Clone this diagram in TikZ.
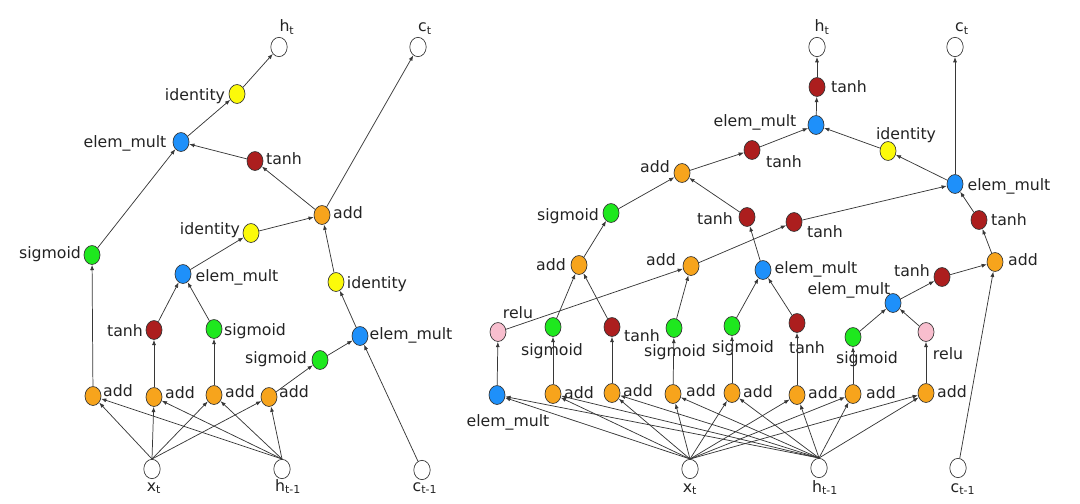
\documentclass[tikz,border=0pt]{standalone}
\usepackage{fontspec}
\setmainfont{DejaVu Sans}
\usetikzlibrary{arrows.meta,shapes.geometric}
\definecolor{corn}{RGB}{247,164,28}
\definecolor{cblu}{RGB}{30,144,250}
\definecolor{cred}{RGB}{172,30,30}
\definecolor{cgrn}{RGB}{30,232,30}
\definecolor{cyel}{RGB}{252,250,10}
\definecolor{cpnk}{RGB}{248,190,206}
\definecolor{cline}{RGB}{55,55,55}
\definecolor{ctext}{RGB}{35,35,35}
\begin{document}
\begin{tikzpicture}[x=0.75pt,y=-0.75pt,
  nd/.style={ellipse, draw=black!80, line width=0.5pt, minimum width=12pt, minimum height=14.2pt, inner sep=0pt},
  wht/.style={nd, fill=white, minimum width=12.3pt, minimum height=14.5pt},
  orn/.style={nd, fill=corn},
  blu/.style={nd, fill=cblu},
  rdn/.style={nd, fill=cred},
  grn/.style={nd, fill=cgrn},
  yel/.style={nd, fill=cyel},
  pnk/.style={nd, fill=cpnk},
  lbl/.style={font=\fontsize{11.8}{14}\selectfont, text=ctext, inner sep=0pt, text height=9pt, text depth=0pt, anchor=center},
  ar/.style={-{Latex[length=4pt,width=3pt]}, draw=cline, line width=0.55pt}]
\useasboundingbox (0,0) rectangle (1080,503);
% ---------------- left diagram ----------------
\node[wht] (Lht) at (279,47) {};
\node[wht] (Lct) at (418,47) {};
\node[yel] (Lid1) at (237,94) {};
\node[blu] (Lem1) at (181,142) {};
\node[rdn] (Lth1) at (255,161) {};
\node[orn] (Lad0) at (322,215) {};
\node[yel] (Lid2) at (251,233) {};
\node[grn] (Lsg1) at (92,255) {};
\node[blu] (Lem2) at (183,274) {};
\node[yel] (Lid3) at (336,282) {};
\node[rdn] (Lth2) at (154,330) {};
\node[grn] (Lsg2) at (214,329) {};
\node[blu] (Lem3) at (360,336) {};
\node[grn] (Lsg3) at (320,360) {};
\node[orn] (Lad1) at (93,396) {};
\node[orn] (Lad2) at (154,397) {};
\node[orn] (Lad3) at (214,395) {};
\node[orn] (Lad4) at (269,397) {};
\node[wht] (Lxt) at (152,469) {};
\node[wht] (Lhp) at (282,469) {};
\node[wht] (Lcp) at (422,470) {};
% labels
\node[lbl] (tLht) at (287,26) {h\textsubscript{t}};
\node[lbl] (tLct) at (425,26) {c\textsubscript{t}};
\node[lbl] (tLid1) at (195,94) {identity};
\node[lbl] (tLem1) at (125,141) {elem\_mult};
\node[lbl] (tLth1) at (284,158) {tanh};
\node[lbl] (tLad0) at (348,212) {add};
\node[lbl] (tLid2) at (210,228) {identity};
\node[lbl] (tLsg1) at (50,252) {sigmoid};
\node[lbl] (tLem2) at (237,275) {elem\_mult};
\node[lbl] (tLid3) at (377,282) {identity};
\node[lbl] (tLth2) at (125,330) {tanh};
\node[lbl] (tLsg2) at (255,329) {sigmoid};
\node[lbl] (tLem3) at (411,333) {elem\_mult};
\node[lbl] (tLsg3) at (276,357) {sigmoid};
\node[lbl] (tLad1) at (118,390) {add};
\node[lbl] (tLad2) at (180,392) {add};
\node[lbl] (tLad3) at (240,391) {add};
\node[lbl] (tLad4) at (294,391) {add};
\node[lbl] (tLxt) at (154,485) {x\textsubscript{t}};
\node[lbl] (tLhp) at (288,485) {h\textsubscript{t-1}};
\node[lbl] (tLcp) at (425,485) {c\textsubscript{t-1}};
% edges
\foreach \t in {Lad1,Lad2,Lad3,Lad4} {
  \draw[ar] (Lxt.north) -- (\t);
  \draw[ar] (Lhp.north) -- (\t);
}
\draw[ar] (Lad1) -- (Lsg1);
\draw[ar] (Lsg1) -- (Lem1);
\draw[ar] (Lad2) -- (Lth2);
\draw[ar] (Lth2) -- (Lem2);
\draw[ar] (Lad3) -- (Lsg2);
\draw[ar] (Lsg2) -- (Lem2);
\draw[ar] (Lad4) -- (Lsg3);
\draw[ar] (Lsg3) -- (Lem3);
\draw[ar] (Lcp) -- (Lem3);
\draw[ar] (Lem3) -- (Lid3);
\draw[ar] (Lid3) -- (Lad0);
\draw[ar] (Lem2) -- (Lid2);
\draw[ar] (Lid2) -- (Lad0);
\draw[ar] (Lad0) -- (Lth1);
\draw[ar] (Lth1) -- (Lem1);
\draw[ar] (Lad0) -- (Lct);
\draw[ar] (Lem1) -- (Lid1);
\draw[ar] (Lid1) -- (Lht);
% ---------------- right diagram ----------------
\node[wht] (Rht) at (817,47) {};
\node[wht] (Rct) at (955,47) {};
\node[rdn] (Rth0) at (817,87) {};
\node[blu] (Rem0) at (816,125) {};
\node[yel] (Rid) at (888,151) {};
\node[rdn] (Rth1) at (752,150) {};
\node[orn] (Rad0) at (682,173) {};
\node[blu] (Rem1) at (955,184) {};
\node[grn] (Rsg0) at (611,213) {};
\node[rdn] (Rth2) at (747,217) {};
\node[rdn] (Rth3) at (794,222) {};
\node[rdn] (Rth4) at (979,220) {};
\node[orn] (RadA) at (579,265) {};
\node[orn] (RadB) at (691,266) {};
\node[blu] (Rem2) at (763,270) {};
\node[orn] (RadC) at (995,262) {};
\node[rdn] (Rth5) at (942,277) {};
\node[blu] (Rem3) at (893,303) {};
\node[pnk] (Rre1) at (498,332) {};
\node[grn] (Rsg1) at (553,327) {};
\node[rdn] (Rth6) at (612,327) {};
\node[grn] (Rsg2) at (674,328) {};
\node[grn] (Rsg3) at (732,326) {};
\node[rdn] (Rth7) at (797,323) {};
\node[grn] (Rsg4) at (853,337) {};
\node[pnk] (Rre2) at (926,332) {};
\node[blu] (Rb1) at (497,395) {};
\node[orn] (Rb2) at (553,394) {};
\node[orn] (Rb3) at (612,393) {};
\node[orn] (Rb4) at (673,394) {};
\node[orn] (Rb5) at (732,393) {};
\node[orn] (Rb6) at (797,395) {};
\node[orn] (Rb7) at (853,394) {};
\node[orn] (Rb8) at (926,393) {};
\node[wht] (Rxt) at (690,469) {};
\node[wht] (Rhp) at (819,468) {};
\node[wht] (Rcp) at (958,468) {};
% labels
\node[lbl] (tRht) at (822,26) {h\textsubscript{t}};
\node[lbl] (tRct) at (962,26) {c\textsubscript{t}};
\node[lbl] (tRth0) at (849,87) {tanh};
\node[lbl] (tRem0) at (755,120) {elem\_mult};
\node[lbl] (tRid) at (906,133) {identity};
\node[lbl] (tRth1) at (784,161) {tanh};
\node[lbl] (tRad0) at (655,166) {add};
\node[lbl] (tRem1) at (1009,184) {elem\_mult};
\node[lbl] (tRsg0) at (568,214) {sigmoid};
\node[lbl] (tRth2) at (715,218) {tanh};
\node[lbl] (tRth3) at (825,231) {tanh};
\node[lbl] (tRth4) at (1009,219) {tanh};
\node[lbl] (tRadA) at (551,264) {add};
\node[lbl] (tRadB) at (661,259) {add};
\node[lbl] (tRem2) at (816,267) {elem\_mult};
\node[lbl] (tRadC) at (1023,259) {add};
\node[lbl] (tRth5) at (912,270) {tanh};
\node[lbl] (tRem3) at (849,288) {elem\_mult};
\node[lbl] (tRre1) at (518,312) {relu};
\node[lbl] (tRsg1) at (552,349) {sigmoid};
\node[lbl] (tRth6) at (642,335) {tanh};
\node[lbl] (tRsg2) at (675,350) {sigmoid};
\node[lbl] (tRsg3) at (743,346) {sigmoid};
\node[lbl] (tRth7) at (807,347) {tanh};
\node[lbl] (tRsg4) at (867,357) {sigmoid};
\node[lbl] (tRre2) at (948,353) {relu};
\node[lbl] (tRb1) at (508,420) {elem\_mult};
\node[lbl] (tRb2) at (579,392) {add};
\node[lbl] (tRb3) at (638,390) {add};
\node[lbl] (tRb4) at (701,390) {add};
\node[lbl] (tRb5) at (758,391) {add};
\node[lbl] (tRb6) at (823,392) {add};
\node[lbl] (tRb7) at (881,392) {add};
\node[lbl] (tRb8) at (952,391) {add};
\node[lbl] (tRxt) at (690,486) {x\textsubscript{t}};
\node[lbl] (tRhp) at (825,486) {h\textsubscript{t-1}};
\node[lbl] (tRcp) at (963,486) {c\textsubscript{t-1}};
% edges
\foreach \t in {Rb1,Rb2,Rb3,Rb4,Rb5,Rb6,Rb7,Rb8} {
  \draw[ar] (Rxt.north) -- (\t);
  \draw[ar] (Rhp.north) -- (\t);
}
\draw[ar] (Rb1) -- (Rre1);
\draw[ar] (Rre1) -- (RadB);
\draw[ar] (Rb2) -- (Rsg1);
\draw[ar] (Rsg1) -- (RadA);
\draw[ar] (Rb3) -- (Rth6);
\draw[ar] (Rth6) -- (RadA);
\draw[ar] (RadA) -- (Rsg0);
\draw[ar] (Rsg0) -- (Rad0);
\draw[ar] (Rb4) -- (Rsg2);
\draw[ar] (Rsg2) -- (RadB);
\draw[ar] (RadB) -- (Rth3);
\draw[ar] (Rth3) -- (Rem1);
\draw[ar] (Rb5) -- (Rsg3);
\draw[ar] (Rsg3) -- (Rem2);
\draw[ar] (Rb6) -- (Rth7);
\draw[ar] (Rth7) -- (Rem2);
\draw[ar] (Rem2) -- (Rth2);
\draw[ar] (Rth2) -- (Rad0);
\draw[ar] (Rad0) -- (Rth1);
\draw[ar] (Rth1) -- (Rem0);
\draw[ar] (Rem0) -- (Rth0);
\draw[ar] (Rth0) -- (Rht);
\draw[ar] (Rem1) -- (Rid);
\draw[ar] (Rid) -- (Rem0);
\draw[ar] (Rem1) -- (Rct);
\draw[ar] (Rb7) -- (Rsg4);
\draw[ar] (Rsg4) -- (Rem3);
\draw[ar] (Rb8) -- (Rre2);
\draw[ar] (Rre2) -- (Rem3);
\draw[ar] (Rem3) -- (Rth5);
\draw[ar] (Rth5) -- (RadC);
\draw[ar] (Rcp) -- (RadC);
\draw[ar] (RadC) -- (Rth4);
\draw[ar] (Rth4) -- (Rem1);
\end{tikzpicture}
\end{document}
